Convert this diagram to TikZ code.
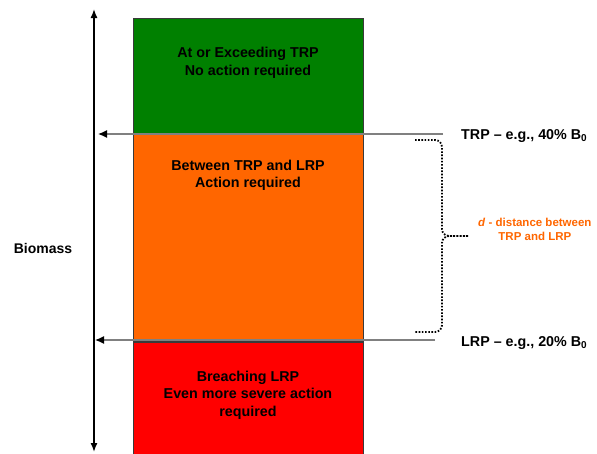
\documentclass[tikz,border=0pt]{standalone}
\usepackage{fontspec}
\setmainfont{Liberation Sans}
\usetikzlibrary{positioning,arrows.meta}
\definecolor{zonegreen}{HTML}{008000}
\definecolor{zoneorange}{HTML}{FF6600}
\definecolor{zonered}{HTML}{FF0000}
\definecolor{refgrey}{HTML}{808080}
\definecolor{zoneedge}{HTML}{3A3A3A}

\begin{document}
\begin{tikzpicture}[x=1pt,y=-1pt,
  zone/.style={draw=zoneedge,line width=0.8pt,minimum width=230pt,inner sep=0pt,anchor=north},
  zonetext/.style={font=\bfseries\fontsize{14.3}{17.5}\selectfont,align=center,inner sep=0pt},
  reflabel/.style={font=\bfseries\fontsize{14.3}{16}\selectfont,inner sep=0pt,anchor=base west},
  refline/.style={draw=refgrey,line width=1.3pt,-{Latex[black,length=9pt,width=8pt]}},
  axisline/.style={line width=1.4pt,{Latex[length=9pt,width=7pt]}-{Latex[length=9pt,width=7pt]}}]
  \useasboundingbox (0,0) rectangle (597,453);
  % the three zones
  \node[zone,fill=zonegreen,minimum height=115pt] (green) at (248,18) {};
  \node[zone,fill=zoneorange,minimum height=207pt,below=0pt of green] (orange) {};
  \node[zone,fill=zonered,minimum height=118pt,below=0pt of orange] (red) {};
  \node[zonetext,below=29pt of green.north] (greentext) {At or Exceeding TRP\\No action required};
  \node[zonetext,below=26pt of orange.north] (orangetext) {Between TRP and LRP\\Action required};
  \node[zonetext,below=29pt of red.north] (redtext) {Breaching LRP\\Even more severe action\\required};
  % biomass axis
  \coordinate (axtop) at (94,9);
  \coordinate (axbot) at (94,452);
  \draw[axisline] (axbot) -- (axtop);
  \node[font=\bfseries\fontsize{14}{16}\selectfont,inner sep=0pt] (biomass) at (43,248) {Biomass};
  % reference points
  \node[reflabel] (trp) at (461,139) {TRP -- e.g., 40\% B\textsubscript{0}};
  \node[reflabel] (lrp) at (461,346) {LRP -- e.g., 20\% B\textsubscript{0}};
  \coordinate (trpfrom) at (443,134);
  \coordinate (trpto) at (98,134);
  \coordinate (lrpfrom) at (435,340);
  \coordinate (lrpto) at (95,340);
  \draw[refline] (trpfrom) -- (trpto);
  \draw[refline] (lrpfrom) -- (lrpto);
  % dotted brace
  \coordinate (bracetop) at (415,140);
  \coordinate (bracemid) at (442,236);
  \coordinate (bracetip) at (468,236);
  \coordinate (bracebot) at (415,332);
  \draw[line width=1.8pt,dash pattern=on 1.6pt off 1.6pt,rounded corners=7pt] (bracetop) -| (bracemid) -- (bracetip);
  \draw[line width=1.8pt,dash pattern=on 1.6pt off 1.6pt,rounded corners=7pt] (bracetip) -- (bracemid) |- (bracebot);
  \node[font=\bfseries\fontsize{11.5}{14}\selectfont,text=zoneorange,align=center,inner sep=0pt,right=10pt of bracetip,yshift=7pt] (dist) {\textit{d} - distance between\\TRP and LRP};
\end{tikzpicture}
\end{document}
